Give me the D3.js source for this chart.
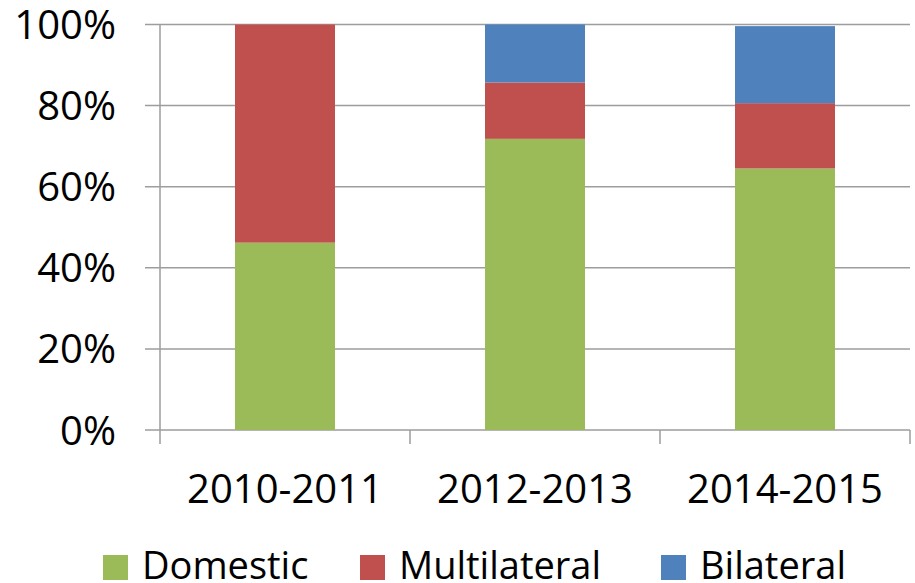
<!DOCTYPE html>
<html>
<head>
<meta charset="utf-8">
<script src="https://cdn.jsdelivr.net/npm/d3@7"></script>
<style>
  html, body { margin: 0; padding: 0; background: #fff; }
  svg { display: block; }
  text { font-family: "Open Sans", "Noto Sans", sans-serif; fill: #000; }
</style>
</head>
<body>
<svg id="chart" width="915" height="583"></svg>
<script>
const categories = ["2010-2011", "2012-2013", "2014-2015"];
const seriesNames = ["Domestic", "Multilateral", "Bilateral"];
const domestic = [46.2, 71.8, 64.5];
const multilateral = [53.8, 13.9, 16.1];
const bilateral = [0, 14.3, 19.0];
const yTicks = [0, 20, 40, 60, 80, 100];
const colors = ["#9BBB59", "#C0504D", "#4F81BD"];

(function () {
const svg = d3.select("#chart");
const plotLeft = 160, plotRight = 910, plotTop = 24.5, plotBottom = 430;

const x = d3.scaleBand().domain(categories).range([plotLeft, plotRight])
  .paddingInner(0.6).paddingOuter(0.3);
const y = d3.scaleLinear().domain([0, 100]).range([plotBottom, plotTop]);

const rows = categories.map((c, i) => ({
  cat: c, Domestic: domestic[i], Multilateral: multilateral[i], Bilateral: bilateral[i]
}));
const stack = d3.stack().keys(seriesNames)(rows);

// gridlines
svg.append("g").selectAll("line").data(yTicks).join("line")
  .attr("x1", plotLeft - 15).attr("x2", plotRight)
  .attr("y1", d => y(d)).attr("y2", d => y(d))
  .attr("stroke", "#9d9d9d").attr("stroke-width", 1.5);

// bars
svg.append("g").selectAll("g").data(stack).join("g")
  .attr("fill", (d, i) => colors[i])
  .selectAll("rect").data(d => d).join("rect")
  .attr("x", d => x(d.data.cat))
  .attr("width", x.bandwidth())
  .attr("y", d => y(d[1]))
  .attr("height", d => y(d[0]) - y(d[1]));

// y axis line
svg.append("line").attr("x1", plotLeft).attr("x2", plotLeft)
  .attr("y1", plotTop).attr("y2", plotBottom)
  .attr("stroke", "#9d9d9d").attr("stroke-width", 1.5);

// x axis ticks (category boundaries)
const bounds = [plotLeft].concat(categories.map((c, i) => plotLeft + x.step() * (i + 1)));
svg.append("g").selectAll("line").data(bounds).join("line")
  .attr("x1", d => d).attr("x2", d => d)
  .attr("y1", plotBottom).attr("y2", plotBottom + 14)
  .attr("stroke", "#9d9d9d").attr("stroke-width", 1.5);

// y labels
svg.append("g").selectAll("text").data(yTicks).join("text")
  .attr("x", 116).attr("y", d => y(d) + 14.5)
  .attr("text-anchor", "end")
  .attr("font-size", 40)
  .text(d => d + "%");

// x labels
svg.append("g").selectAll("text").data(categories).join("text")
  .attr("x", d => x(d) + x.bandwidth() / 2)
  .attr("y", 503)
  .attr("text-anchor", "middle")
  .attr("font-size", 40)
  .text(d => d);

// legend
const legendX = [103, 360, 661];
const lg = svg.append("g").selectAll("g").data(seriesNames).join("g")
  .attr("transform", (d, i) => `translate(${legendX[i]},555)`);
lg.append("rect").attr("width", 25).attr("height", 25)
  .attr("fill", (d, i) => colors[i]);
lg.append("text").attr("x", 39).attr("y", 23.5)
  .attr("font-size", 38).text(d => d);
})();
</script>
</body>
</html>
